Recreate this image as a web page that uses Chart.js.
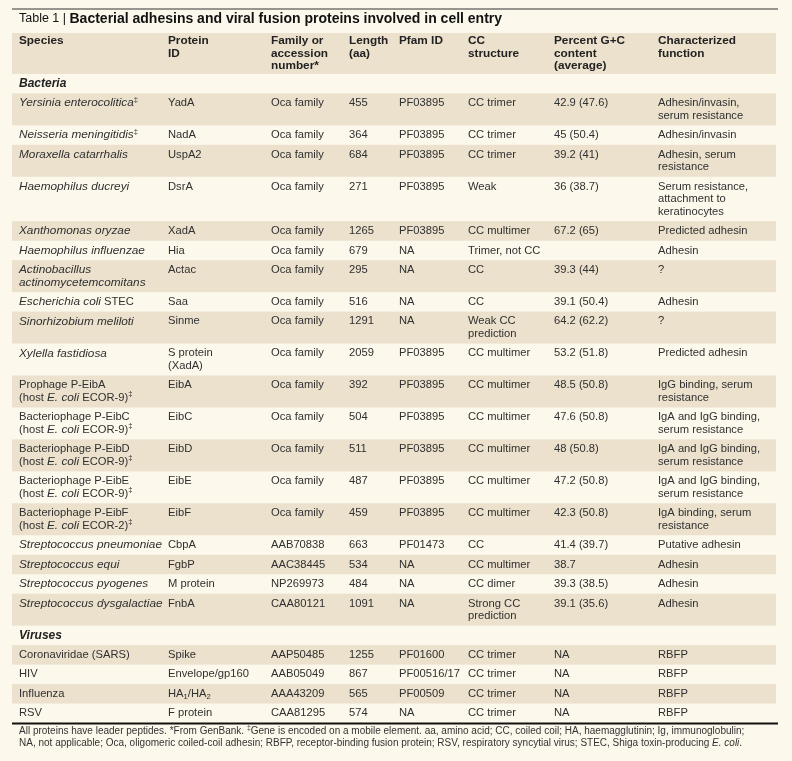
<!DOCTYPE html>
<html>
<head>
<meta charset="utf-8">
<script src="https://cdn.jsdelivr.net/npm/chart.js@4.4.1/dist/chart.umd.min.js"></script>
<style>
html, body { margin: 0; padding: 0; background: #fcf8eb; }
#caja { width: 792px; height: 761px; }
</style>
</head>
<body>
<div id="caja"><canvas id="tabla"></canvas></div>
<script>
// ===== DATOS =====
const titulo = 'Table 1 | ';
const tituloNegrita = 'Bacterial adhesins and viral fusion proteins involved in cell entry';

const encabezados = [
    'Species', 'Protein\nID', 'Family or\naccession\nnumber*', 'Length\n(aa)',
    'Pfam ID', 'CC\nstructure', 'Percent G+C\ncontent\n(average)', 'Characterized\nfunction'
];

const grupos = ['Bacteria', 'Viruses'];
const filasPorGrupo = [19, 4];

const especies = [
    '_Yersinia enterocolitica_^‡^',
    '_Neisseria meningitidis_^‡^',
    '_Moraxella catarrhalis_',
    '_Haemophilus ducreyi_',
    '_Xanthomonas oryzae_',
    '_Haemophilus influenzae_',
    '_Actinobacillus_\n_actinomycetemcomitans_',
    '_Escherichia coli_ STEC',
    '_Sinorhizobium meliloti_',
    '_Xylella fastidiosa_',
    'Prophage P-EibA\n(host _E. coli_ ECOR-9)^‡^',
    'Bacteriophage P-EibC\n(host _E. coli_ ECOR-9)^‡^',
    'Bacteriophage P-EibD\n(host _E. coli_ ECOR-9)^‡^',
    'Bacteriophage P-EibE\n(host _E. coli_ ECOR-9)^‡^',
    'Bacteriophage P-EibF\n(host _E. coli_ ECOR-2)^‡^',
    '_Streptococcus pneumoniae_',
    '_Streptococcus equi_',
    '_Streptococcus pyogenes_',
    '_Streptococcus dysgalactiae_',
    'Coronaviridae (SARS)',
    'HIV',
    'Influenza',
    'RSV'
];

const proteinas = [
    'YadA', 'NadA', 'UspA2', 'DsrA', 'XadA', 'Hia', 'Actac', 'Saa', 'Sinme', 'S protein\n(XadA)',
    'EibA', 'EibC', 'EibD', 'EibE', 'EibF', 'CbpA', 'FgbP', 'M protein', 'FnbA',
    'Spike', 'Envelope/gp160', 'HA~1~/HA~2~', 'F protein'
];

const familias = [
    'Oca family', 'Oca family', 'Oca family', 'Oca family', 'Oca family', 'Oca family', 'Oca family',
    'Oca family', 'Oca family', 'Oca family', 'Oca family', 'Oca family', 'Oca family', 'Oca family',
    'Oca family', 'AAB70838', 'AAC38445', 'NP269973', 'CAA80121',
    'AAP50485', 'AAB05049', 'AAA43209', 'CAA81295'
];

const longitudes = [
    '455', '364', '684', '271', '1265', '679', '295', '516', '1291', '2059',
    '392', '504', '511', '487', '459', '663', '534', '484', '1091',
    '1255', '867', '565', '574'
];

const pfam = [
    'PF03895', 'PF03895', 'PF03895', 'PF03895', 'PF03895', 'NA', 'NA', 'NA', 'NA', 'PF03895',
    'PF03895', 'PF03895', 'PF03895', 'PF03895', 'PF03895', 'PF01473', 'NA', 'NA', 'NA',
    'PF01600', 'PF00516/17', 'PF00509', 'NA'
];

const estructuras = [
    'CC trimer', 'CC trimer', 'CC trimer', 'Weak', 'CC multimer', 'Trimer, not CC', 'CC', 'CC',
    'Weak CC\nprediction', 'CC multimer', 'CC multimer', 'CC multimer', 'CC multimer', 'CC multimer',
    'CC multimer', 'CC', 'CC multimer', 'CC dimer', 'Strong CC\nprediction',
    'CC trimer', 'CC trimer', 'CC trimer', 'CC trimer'
];

const contenidoGC = [
    '42.9 (47.6)', '45 (50.4)', '39.2 (41)', '36 (38.7)', '67.2 (65)', '', '39.3 (44)', '39.1 (50.4)',
    '64.2 (62.2)', '53.2 (51.8)', '48.5 (50.8)', '47.6 (50.8)', '48 (50.8)', '47.2 (50.8)', '42.3 (50.8)',
    '41.4 (39.7)', '38.7', '39.3 (38.5)', '39.1 (35.6)',
    'NA', 'NA', 'NA', 'NA'
];

const funciones = [
    'Adhesin/invasin,\nserum resistance', 'Adhesin/invasin', 'Adhesin, serum\nresistance',
    'Serum resistance,\nattachment to\nkeratinocytes', 'Predicted adhesin', 'Adhesin', '?', 'Adhesin', '?',
    'Predicted adhesin', 'IgG binding, serum\nresistance', 'IgA and IgG binding,\nserum resistance',
    'IgA and IgG binding,\nserum resistance', 'IgA and IgG binding,\nserum resistance',
    'IgA binding, serum\nresistance', 'Putative adhesin', 'Adhesin', 'Adhesin', 'Adhesin',
    'RBFP', 'RBFP', 'RBFP', 'RBFP'
];

const notas = [
    'All proteins have leader peptides. *From GenBank. ^‡^Gene is encoded on a mobile element. aa, amino acid; CC, coiled coil; HA, haemagglutinin; Ig, immunoglobulin;',
    'NA, not applicable; Oca, oligomeric coiled-coil adhesin; RBFP, receptor-binding fusion protein; RSV, respiratory syncytial virus; STEC, Shiga toxin-producing _E. coli_.'
];

// ===== ARMADO DE FILAS =====
const columnas = [especies, proteinas, familias, longitudes, pfam, estructuras, contenidoGC, funciones];
const colX = [7, 156, 259, 337, 387, 456, 542, 646];   // borde izquierdo de cada columna
const ANCHO_TABLA = 764;
const PAD_FILA = 0.56;       // en unidades de línea
const PAD_ENCAB = 0.28;

const filas = [];
let pos = 0;
filas.push({ tipo: 'encab', celdas: encabezados, inicio: pos, lineas: 3, pad: PAD_ENCAB, sombra: true });
pos += 3 + PAD_ENCAB;
let k = 0;
grupos.forEach((g, gi) => {
    filas.push({ tipo: 'grupo', celdas: ['_' + g + '_'], inicio: pos, lineas: 1, pad: PAD_FILA, sombra: false });
    pos += 1 + PAD_FILA;
    for (let j = 0; j < filasPorGrupo[gi]; j++, k++) {
        const celdas = columnas.map(c => c[k]);
        const lineas = Math.max(...celdas.map(t => t.split('\n').length));
        filas.push({ tipo: 'dato', celdas, inicio: pos, lineas, pad: PAD_FILA, sombra: j % 2 === 0 });
        pos += lineas + PAD_FILA;
    }
});
const TOTAL = pos;

// ===== TEXTO ENRIQUECIDO =====
const FAMILIA = '"Liberation Sans", Arial, Helvetica, sans-serif';

function partes(linea) {
    const out = [];
    let cursiva = false, modo = 'n', buf = '';
    const vaciar = () => { if (buf) out.push({ t: buf, cursiva, modo }); buf = ''; };
    for (const ch of linea) {
        if (ch === '_') { vaciar(); cursiva = !cursiva; }
        else if (ch === '^') { vaciar(); modo = modo === 'sup' ? 'n' : 'sup'; }
        else if (ch === '~') { vaciar(); modo = modo === 'sub' ? 'n' : 'sub'; }
        else buf += ch;
    }
    vaciar();
    return out;
}

// tam: {n: normal, i: cursiva}
function escribir(ctx, linea, x, y, tam, negrita, color) {
    ctx.fillStyle = color;
    ctx.textBaseline = 'middle';
    ctx.textAlign = 'left';
    partes(linea).forEach(p => {
        const base = p.cursiva ? tam.i : tam.n;
        const s = p.modo === 'n' ? base : base * 0.68;
        const dy = p.modo === 'sup' ? -base * 0.32 : p.modo === 'sub' ? base * 0.3 : 0;
        ctx.font = (p.cursiva ? 'italic ' : '') + (negrita ? 'bold ' : '') + s + 'px ' + FAMILIA;
        ctx.fillText(p.t, x, y + dy);
        x += ctx.measureText(p.t).width;
    });
    return x;
}

const T_DATO = { n: 11.2, i: 11.8 };
const T_ENCAB = { n: 11.8, i: 12 };

// ===== PLUGIN =====
const tablaPlugin = {
    id: 'tabla',
    beforeDatasetsDraw(chart) {
        const { ctx, chartArea, scales: { x, y } } = chart;
        ctx.save();

        // bandas sombreadas
        ctx.fillStyle = '#ebe1cd';
        filas.filter(f => f.sombra).forEach(f => {
            const y0 = y.getPixelForValue(f.inicio);
            const y1 = y.getPixelForValue(f.inicio + f.lineas + f.pad);
            ctx.fillRect(x.getPixelForValue(0), y0, x.getPixelForValue(ANCHO_TABLA) - x.getPixelForValue(0), y1 - y0);
        });

        // celdas
        filas.forEach(f => {
            f.celdas.forEach((txt, ci) => {
                txt.split('\n').forEach((ln, li) => {
                    const yy = y.getPixelForValue(f.inicio + f.pad / 2 + li + 0.5);
                    const dato = f.tipo === 'dato';
                    escribir(ctx, ln, x.getPixelForValue(colX[ci]), yy, dato ? T_DATO : T_ENCAB,
                        !dato, dato ? '#303030' : '#222');
                });
            });
        });

        // título y reglas
        const izq = chartArea.left, der = chartArea.right + 2;
        ctx.fillStyle = '#333';
        ctx.fillRect(izq, 8.5, der - izq, 1);
        let xt = escribir(ctx, titulo, izq + 7, 19, { n: 12.5, i: 12.5 }, false, '#111');
        escribir(ctx, tituloNegrita, xt, 19, { n: 14, i: 14 }, true, '#111');

        ctx.fillStyle = '#111';
        ctx.fillRect(izq, chartArea.bottom - 0.5, der - izq, 2);

        notas.forEach((n, i) => {
            escribir(ctx, n, izq + 7, chartArea.bottom + 8 + i * 12, { n: 10, i: 10 }, false, '#333');
        });
        ctx.restore();
    }
};

new Chart(document.getElementById('tabla'), {
    type: 'scatter',
    data: { datasets: [] },
    options: {
        responsive: true,
        maintainAspectRatio: false,
        animation: false,
        layout: { padding: { top: 33, bottom: 38, left: 12, right: 16 } },
        plugins: { legend: { display: false }, tooltip: { enabled: false } },
        scales: {
            x: { type: 'linear', min: 0, max: ANCHO_TABLA, display: false },
            y: { type: 'linear', min: 0, max: TOTAL, reverse: true, display: false }
        }
    },
    plugins: [tablaPlugin]
});
</script>
</body>
</html>
